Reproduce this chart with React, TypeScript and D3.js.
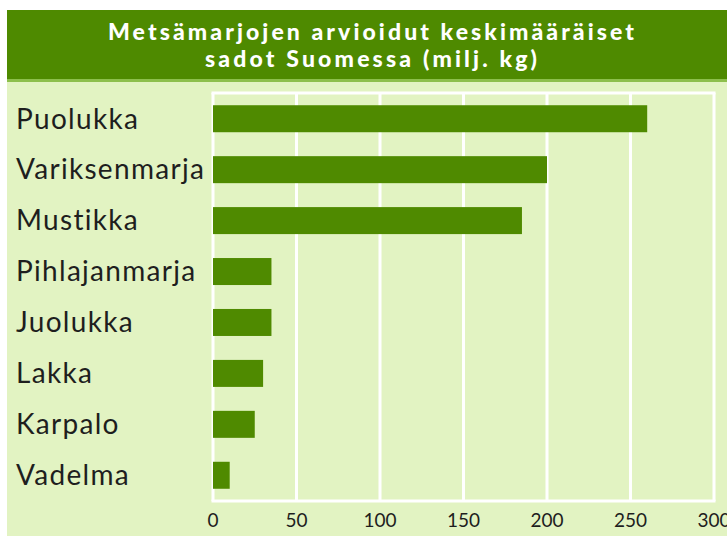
import React from 'react';
import * as d3 from 'd3';

const berries = ['Puolukka', 'Variksenmarja', 'Mustikka', 'Pihlajanmarja', 'Juolukka', 'Lakka', 'Karpalo', 'Vadelma'];
const harvest = [260, 200, 185, 35, 35, 30, 25, 10]; // milj. kg
const ticks = [0, 50, 100, 150, 200, 250, 300];
const titleLines = ['Metsämarjojen arvioidut keskimääräiset', 'sadot Suomessa (milj. kg)'];

const W = 727;
const H = 536;
const plot = { left: 213, right: 714, top: 93, bottom: 501 };
// otsikkorivien leveydet (Gill Sans -tyyppinen leveä kirjaintyyppi)
const titleWidths = [526, 332];

export default function App() {
  const x = d3.scaleLinear().domain([0, 300]).range([plot.left, plot.right]);
  const y = d3.scaleBand().domain(berries).range([plot.top, plot.bottom]).paddingInner(0.47).paddingOuter(0.24);

  return (
    <div style={{ position: 'absolute', left: 0, top: 0 }}>
      <svg width={W} height={H} style={{ display: 'block' }}>
        <rect x={0} y={0} width={W} height={H} fill="#ffffff" />
        {/* tausta */}
        <rect x={7} y={80} width={W - 7} height={H - 80} fill="#e2f3c2" />
        <rect x={7} y={10} width={W - 7} height={70} fill="#4e8a00" />
        <rect x={7} y={79} width={W - 7} height={3} fill="#8dbf4c" />
        {titleLines.map((t, i) => (
          <text key={t} x={371} y={40 + i * 27} textAnchor="middle" fill="#ffffff"
            textLength={titleWidths[i]} lengthAdjust="spacing"
            fontFamily="Lato, sans-serif" fontWeight={900} fontSize={23}>{t}</text>
        ))}

        {/* ruudukko */}
        {ticks.map(t => (
          <line key={t} x1={x(t)} x2={x(t)} y1={plot.top} y2={plot.bottom} stroke="#ffffff" strokeWidth={3} />
        ))}
        <line x1={plot.left - 1.5} x2={plot.right + 1.5} y1={plot.top} y2={plot.top} stroke="#ffffff" strokeWidth={3} />
        <line x1={plot.left - 1.5} x2={plot.right + 1.5} y1={plot.bottom} y2={plot.bottom} stroke="#ffffff" strokeWidth={3} />

        {/* palkit */}
        {berries.map((b, i) => (
          <rect key={b} x={x(0)} y={y(b)} width={x(harvest[i]) - x(0)} height={y.bandwidth()} fill="#4f8a00" />
        ))}

        {berries.map(b => (
          <text key={b} x={16} y={(y(b) as number) + y.bandwidth() / 2} dy="0.35em" fill="#1e1e1e"
            letterSpacing={1.3}
            fontFamily="Lato, sans-serif" fontSize={28}>{b}</text>
        ))}

        {ticks.map(t => (
          <text key={t} x={x(t)} y={527} textAnchor="middle" fill="#1e1e1e"
            fontFamily="Lato, sans-serif" fontSize={19}>{t}</text>
        ))}
      </svg>
    </div>
  );
}
